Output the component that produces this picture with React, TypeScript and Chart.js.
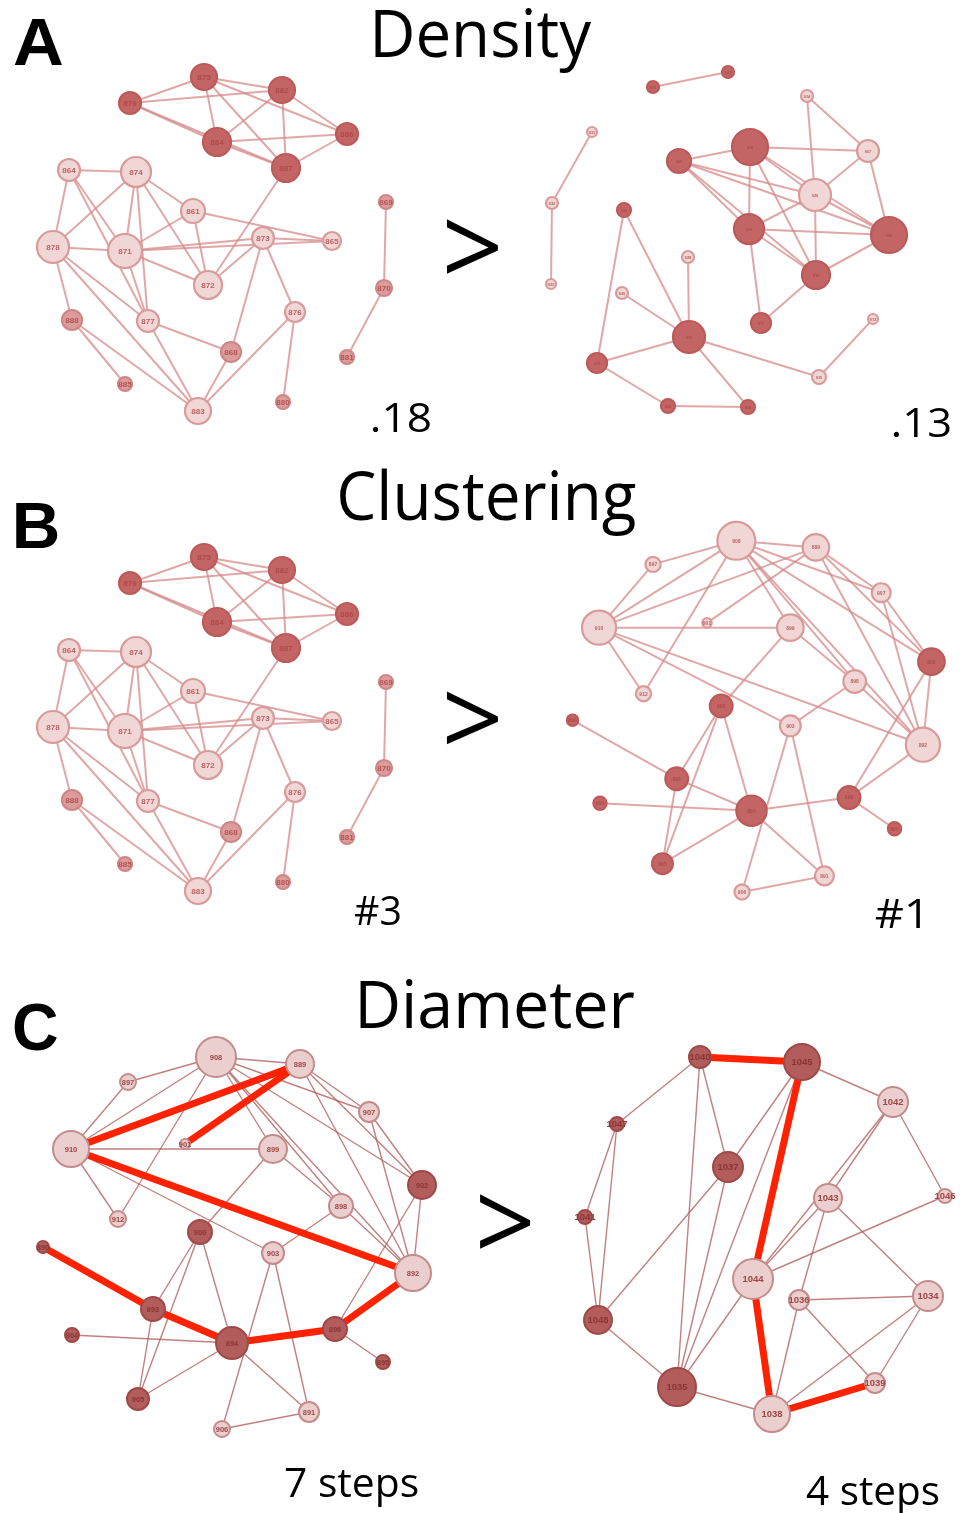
import React, { useEffect, useRef } from "react";
import { Chart, registerables } from "chart.js";

Chart.register(...registerables);

// ---------- DATA ----------
// node: [label, x, y, radius, tone]  tone: 0 light, 1 medium, 2 dark
type Node = [string, number, number, number, number];
type Edge = [string, string];

const denseNodes: Node[] = [
  ["875", 204, 77, 13, 2], ["882", 282, 90, 13, 2], ["879", 130, 103, 11, 2],
  ["884", 217, 142, 14, 2], ["886", 347, 134, 11, 2], ["887", 286, 168, 14, 2],
  ["864", 69, 170, 11, 0], ["874", 136, 172, 15, 0], ["861", 193, 211, 12, 0],
  ["878", 53, 247, 16, 0], ["871", 125, 251, 17, 0], ["873", 263, 238, 11, 0],
  ["865", 332, 241, 9, 0], ["872", 208, 285, 14, 0], ["888", 72, 320, 10, 1],
  ["877", 148, 321, 11, 0], ["876", 295, 312, 10, 0], ["868", 231, 352, 10, 1],
  ["885", 125, 384, 7, 1], ["883", 198, 411, 13, 0], ["880", 283, 402, 7, 1],
  ["869", 386, 202, 7, 1], ["870", 384, 288, 8, 1], ["881", 347, 357, 7, 1],
];
const denseEdges: Edge[] = [
  ["879", "875"], ["879", "882"], ["879", "884"], ["879", "887"],
  ["875", "882"], ["875", "884"], ["875", "887"], ["875", "886"],
  ["882", "884"], ["882", "887"], ["882", "886"],
  ["884", "886"], ["884", "887"], ["886", "887"], ["887", "872"],
  ["864", "874"], ["864", "878"], ["864", "871"], ["864", "877"],
  ["874", "878"], ["874", "871"], ["874", "877"], ["874", "861"], ["874", "872"],
  ["861", "871"], ["861", "872"], ["861", "865"],
  ["878", "871"], ["871", "873"], ["871", "865"], ["873", "865"],
  ["871", "872"], ["871", "877"],
  ["878", "888"], ["878", "877"], ["878", "883"],
  ["888", "885"], ["888", "883"], ["877", "883"], ["877", "868"],
  ["872", "873"], ["873", "868"], ["873", "876"],
  ["876", "883"], ["876", "880"], ["868", "883"],
  ["869", "870"], ["870", "881"],
];

const sparseNodes: Node[] = [
  ["921", 653, 87, 6, 2], ["922", 728, 72, 6, 2], ["914", 807, 96, 6, 0],
  ["931", 592, 132, 5, 0], ["932", 552, 203, 6, 0], ["933", 551, 284, 5, 0],
  ["925", 624, 210, 7, 2], ["929", 679, 161, 12, 2], ["918", 750, 147, 18, 2],
  ["907", 868, 151, 11, 0], ["926", 815, 195, 16, 0], ["916", 749, 229, 15, 2],
  ["909", 889, 235, 18, 2], ["912", 816, 275, 14, 2], ["917", 761, 323, 10, 2],
  ["928", 688, 257, 6, 0], ["930", 622, 293, 6, 0], ["911", 689, 337, 16, 2],
  ["919", 597, 363, 10, 2], ["923", 668, 406, 7, 2], ["924", 748, 407, 7, 2],
  ["910", 819, 377, 7, 0], ["913", 873, 319, 5, 0],
];
const sparseEdges: Edge[] = [
  ["921", "922"], ["914", "926"], ["914", "907"], ["931", "932"], ["932", "933"],
  ["929", "918"], ["929", "916"], ["929", "926"], ["929", "912"], ["929", "909"],
  ["918", "907"], ["918", "916"], ["918", "926"], ["918", "912"], ["918", "909"],
  ["907", "926"], ["907", "909"], ["926", "916"], ["926", "912"], ["926", "909"],
  ["916", "909"], ["916", "912"], ["916", "917"], ["912", "909"], ["912", "917"],
  ["925", "919"], ["925", "911"], ["928", "911"], ["930", "911"],
  ["911", "919"], ["911", "924"], ["911", "910"], ["919", "923"], ["923", "924"],
  ["910", "913"],
];

const clusterNodes: Node[] = [
  ["908", 216, 1057, 20, 0], ["889", 300, 1064, 14, 0], ["897", 128, 1082, 8, 0],
  ["907", 369, 1112, 10, 0], ["910", 71, 1149, 18, 0], ["901", 185, 1144, 5, 0],
  ["899", 273, 1149, 14, 0], ["902", 422, 1185, 14, 2], ["898", 341, 1206, 12, 0],
  ["912", 118, 1219, 8, 0], ["900", 200, 1232, 12, 2], ["903", 273, 1253, 11, 0],
  ["890", 43, 1247, 6, 2], ["892", 413, 1273, 18, 0], ["893", 153, 1309, 12, 2],
  ["904", 72, 1335, 7, 2], ["894", 232, 1343, 16, 2], ["896", 335, 1329, 12, 2],
  ["895", 383, 1362, 7, 2], ["905", 138, 1399, 11, 2], ["891", 309, 1412, 10, 0],
  ["906", 222, 1429, 8, 0],
];
const clusterEdges: Edge[] = [
  ["908", "897"], ["908", "910"], ["908", "889"], ["908", "912"], ["908", "899"],
  ["908", "898"], ["908", "902"], ["908", "907"], ["908", "892"],
  ["897", "910"], ["910", "899"], ["910", "912"], ["910", "903"], ["910", "889"], ["910", "892"],
  ["889", "901"], ["889", "907"], ["889", "902"], ["889", "892"],
  ["907", "902"], ["907", "892"], ["899", "898"], ["899", "900"],
  ["898", "903"], ["898", "892"], ["902", "892"], ["902", "896"],
  ["900", "893"], ["900", "905"], ["900", "894"], ["903", "906"], ["903", "891"],
  ["890", "893"], ["893", "894"], ["894", "896"], ["896", "892"],
  ["904", "894"], ["893", "905"], ["894", "905"], ["894", "891"], ["906", "891"], ["896", "895"],
];
const clusterPath: Edge[] = [
  ["910", "889"], ["889", "901"], ["910", "892"], ["890", "893"],
  ["893", "894"], ["894", "896"], ["896", "892"],
];

const diameterNodes: Node[] = [
  ["1040", 700, 1057, 11, 2], ["1045", 802, 1062, 18, 2], ["1042", 893, 1102, 15, 0],
  ["1047", 617, 1124, 7, 2], ["1037", 728, 1167, 15, 2], ["1043", 828, 1198, 14, 0],
  ["1046", 945, 1196, 7, 0], ["1041", 585, 1217, 7, 2], ["1044", 753, 1279, 20, 0],
  ["1036", 799, 1300, 10, 0], ["1034", 928, 1296, 15, 0], ["1048", 598, 1320, 14, 2],
  ["1035", 677, 1387, 19, 2], ["1039", 875, 1383, 10, 0], ["1038", 772, 1414, 18, 0],
];
const diameterEdges: Edge[] = [
  ["1040", "1045"], ["1040", "1047"], ["1040", "1037"], ["1040", "1035"],
  ["1045", "1037"], ["1045", "1042"], ["1045", "1044"], ["1045", "1035"],
  ["1047", "1041"], ["1047", "1048"], ["1041", "1048"], ["1037", "1048"], ["1037", "1035"],
  ["1042", "1043"], ["1042", "1044"], ["1042", "1046"],
  ["1043", "1044"], ["1043", "1036"], ["1043", "1034"], ["1046", "1044"],
  ["1044", "1035"], ["1044", "1038"], ["1036", "1034"], ["1036", "1038"], ["1036", "1039"],
  ["1034", "1038"], ["1034", "1039"], ["1039", "1038"], ["1048", "1035"], ["1035", "1038"],
];
const diameterPath: Edge[] = [
  ["1040", "1045"], ["1045", "1044"], ["1044", "1038"], ["1038", "1039"],
];

// text: [text, left, right, baseline, size]
const panelLetters: [string, number, number, number, number][] = [
  ["A", 14, 62, 65, 66], ["B", 16, 58, 548, 64], ["C", 14, 57, 1050, 66],
];
const titles: [string, number, number, number, number][] = [
  ["Density", 375, 592, 57, 66], ["Clustering", 340, 636, 520, 67], ["Diameter", 360, 634, 1028, 66],
];
const scores: [string, number, number, number, number][] = [
  [".18", 372, 430, 432, 40], [".13", 893, 950, 437, 40],
  ["#3", 355, 400, 925, 40], ["#1", 876, 921, 928, 40],
  ["7 steps", 285, 418, 1497, 40], ["4 steps", 806, 939, 1505, 40],
];
// ">" boxes: [left, top, right, bottom]
const comparators: [number, number, number, number][] = [
  [447, 218, 498, 275], [447, 690, 498, 745], [480, 1193, 530, 1250],
];

// ---------- STYLES ----------
const soft = {
  edge: "rgba(214,138,138,0.75)", edgeW: 2,
  fill: ["#f1d6d6", "#dd9c9c", "#c46565"],
  border: ["#d99a9a", "#cf8686", "#bc5a5a"],
  label: ["#bb6262", "#b45454", "#ad4a4a"],
  borderW: 2.2, blur: 0.6,
};
const crisp = {
  edge: "rgba(178,96,96,0.8)", edgeW: 1.4,
  fill: ["#ebcfcf", "#d49a9a", "#b25c5c"],
  border: ["#c58a8a", "#b86e6e", "#a04848"],
  label: ["#9f4646", "#9a4040", "#8a3636"],
  borderW: 2, blur: 0,
};

type Panel = {
  nodes: Node[]; edges: Edge[]; red: Edge[];
  dx: number; dy: number; sx: number; sy: number;
  style: typeof soft; font: string;
};

const panels: Panel[] = [
  { nodes: denseNodes, edges: denseEdges, red: [], dx: 0, dy: 0, sx: 1, sy: 1, style: soft, font: "bold 8px 'Liberation Sans'" },
  { nodes: sparseNodes, edges: sparseEdges, red: [], dx: 0, dy: 0, sx: 1, sy: 1, style: soft, font: "bold 4px 'Liberation Sans'" },
  { nodes: denseNodes, edges: denseEdges, red: [], dx: 0, dy: 480, sx: 1, sy: 1, style: soft, font: "bold 8px 'Liberation Sans'" },
  { nodes: clusterNodes, edges: clusterEdges, red: [], dx: 531.8, dy: -457, sx: 0.947, sy: 0.944, style: soft, font: "bold 5px 'Liberation Sans'" },
  { nodes: clusterNodes, edges: clusterEdges, red: clusterPath, dx: 0, dy: 0, sx: 1, sy: 1, style: crisp, font: "bold 7.5px 'Liberation Sans'" },
  { nodes: diameterNodes, edges: diameterEdges, red: diameterPath, dx: 0, dy: 0, sx: 1, sy: 1, style: crisp, font: "bold 9.5px 'Liberation Sans'" },
];

export default function App() {
  const ref = useRef<HTMLCanvasElement | null>(null);

  useEffect(() => {
    if (!ref.current) return;
    const datasets: any[] = [];

    panels.forEach((p) => {
      const pos = (n: Node) => ({ x: n[1] * p.sx + p.dx, y: n[2] * p.sy + p.dy });
      const find = (l: string) => p.nodes.find((n) => n[0] === l)!;
      p.edges.forEach(([a, b]) => {
        datasets.push({
          data: [pos(find(a)), pos(find(b))],
          showLine: true, borderColor: p.style.edge, borderWidth: p.style.edgeW,
          pointRadius: 0, order: 3, blur: p.style.blur,
        });
      });
      p.red.forEach(([a, b]) => {
        datasets.push({
          data: [pos(find(a)), pos(find(b))],
          showLine: true, borderColor: "#ff2200", borderWidth: 7,
          borderCapStyle: "butt", pointRadius: 0, order: 2, blur: 0,
        });
      });
      datasets.push({
        data: p.nodes.map(pos),
        nodeLabels: p.nodes.map((n) => n[0]),
        labelColors: p.nodes.map((n) => p.style.label[n[4]]),
        labelFont: p.font,
        blur: p.style.blur,
        pointRadius: p.nodes.map((n) => n[3] * p.sx),
        pointBackgroundColor: p.nodes.map((n) => p.style.fill[n[4]]),
        pointBorderColor: p.nodes.map((n) => p.style.border[n[4]]),
        pointBorderWidth: p.style.borderW,
        showLine: false, order: 1,
      });
    });

    const blurPlugin = {
      id: "softBlur",
      beforeDatasetDraw(chart: any, args: any) {
        const ds = chart.data.datasets[args.index];
        chart.ctx.save();
        if (ds.blur) chart.ctx.filter = `blur(${ds.blur}px)`;
      },
      afterDatasetDraw(chart: any) {
        chart.ctx.restore();
      },
    };

    const textPlugin = {
      id: "texts",
      afterDraw(chart: any) {
        const ctx = chart.ctx as CanvasRenderingContext2D;
        const xs = chart.scales.x, ys = chart.scales.y;
        const px = (v: number) => xs.getPixelForValue(v);
        const py = (v: number) => ys.getPixelForValue(v);
        // node labels
        chart.data.datasets.forEach((ds: any, i: number) => {
          if (!ds.nodeLabels) return;
          const meta = chart.getDatasetMeta(i);
          ctx.save();
          if (ds.blur) ctx.filter = `blur(${ds.blur * 0.6}px)`;
          ctx.font = ds.labelFont;
          ctx.textAlign = "center";
          ctx.textBaseline = "middle";
          meta.data.forEach((el: any, j: number) => {
            ctx.fillStyle = ds.labelColors[j];
            ctx.fillText(ds.nodeLabels[j], el.x, el.y + 0.5);
          });
          ctx.restore();
        });
        const fit = (text: string, font: string, l: number, r: number, base: number) => {
          ctx.save();
          ctx.font = font;
          const m = ctx.measureText(text);
          const w = m.actualBoundingBoxLeft + m.actualBoundingBoxRight;
          const L = px(l), R = px(r);
          ctx.translate(L, py(base));
          ctx.scale((R - L) / w, 1);
          ctx.fillStyle = "#000";
          ctx.textAlign = "left";
          ctx.textBaseline = "alphabetic";
          ctx.fillText(text, m.actualBoundingBoxLeft, 0);
          ctx.restore();
        };
        panelLetters.forEach(([t, l, r, b, s]) => fit(t, `bold ${s}px 'Liberation Sans'`, l, r, b));
        titles.forEach(([t, l, r, b, s]) => fit(t, `${s}px 'Open Sans'`, l, r, b));
        scores.forEach(([t, l, r, b, s]) => fit(t, `${s}px 'Open Sans'`, l, r, b));
        comparators.forEach(([l, t, r, b]) => {
          ctx.save();
          ctx.font = "100px 'Open Sans'";
          const m = ctx.measureText(">");
          const w = m.actualBoundingBoxLeft + m.actualBoundingBoxRight;
          const h = m.actualBoundingBoxAscent + m.actualBoundingBoxDescent;
          ctx.translate(px(l), py(t));
          ctx.scale((px(r) - px(l)) / w, (py(b) - py(t)) / h);
          ctx.fillStyle = "#000";
          ctx.textAlign = "left";
          ctx.textBaseline = "alphabetic";
          ctx.fillText(">", m.actualBoundingBoxLeft, m.actualBoundingBoxAscent);
          ctx.restore();
        });
      },
    };

    const chart = new Chart(ref.current, {
      type: "scatter",
      data: { datasets },
      options: {
        animation: false,
        responsive: false,
        events: [],
        layout: { padding: 0, autoPadding: false },
        plugins: { legend: { display: false }, tooltip: { enabled: false } },
        scales: {
          x: { type: "linear", min: 0, max: 969, display: false },
          y: { type: "linear", min: 0, max: 1513, reverse: true, display: false },
        },
      },
      plugins: [blurPlugin, textPlugin],
    } as any);
    return () => chart.destroy();
  }, []);

  return (
    <div style={{ position: "absolute", left: 0, top: 0, width: 969, height: 1513, background: "#fff" }}>
      <canvas ref={ref} width={969} height={1513} style={{ width: 969, height: 1513, display: "block" }} />
    </div>
  );
}
